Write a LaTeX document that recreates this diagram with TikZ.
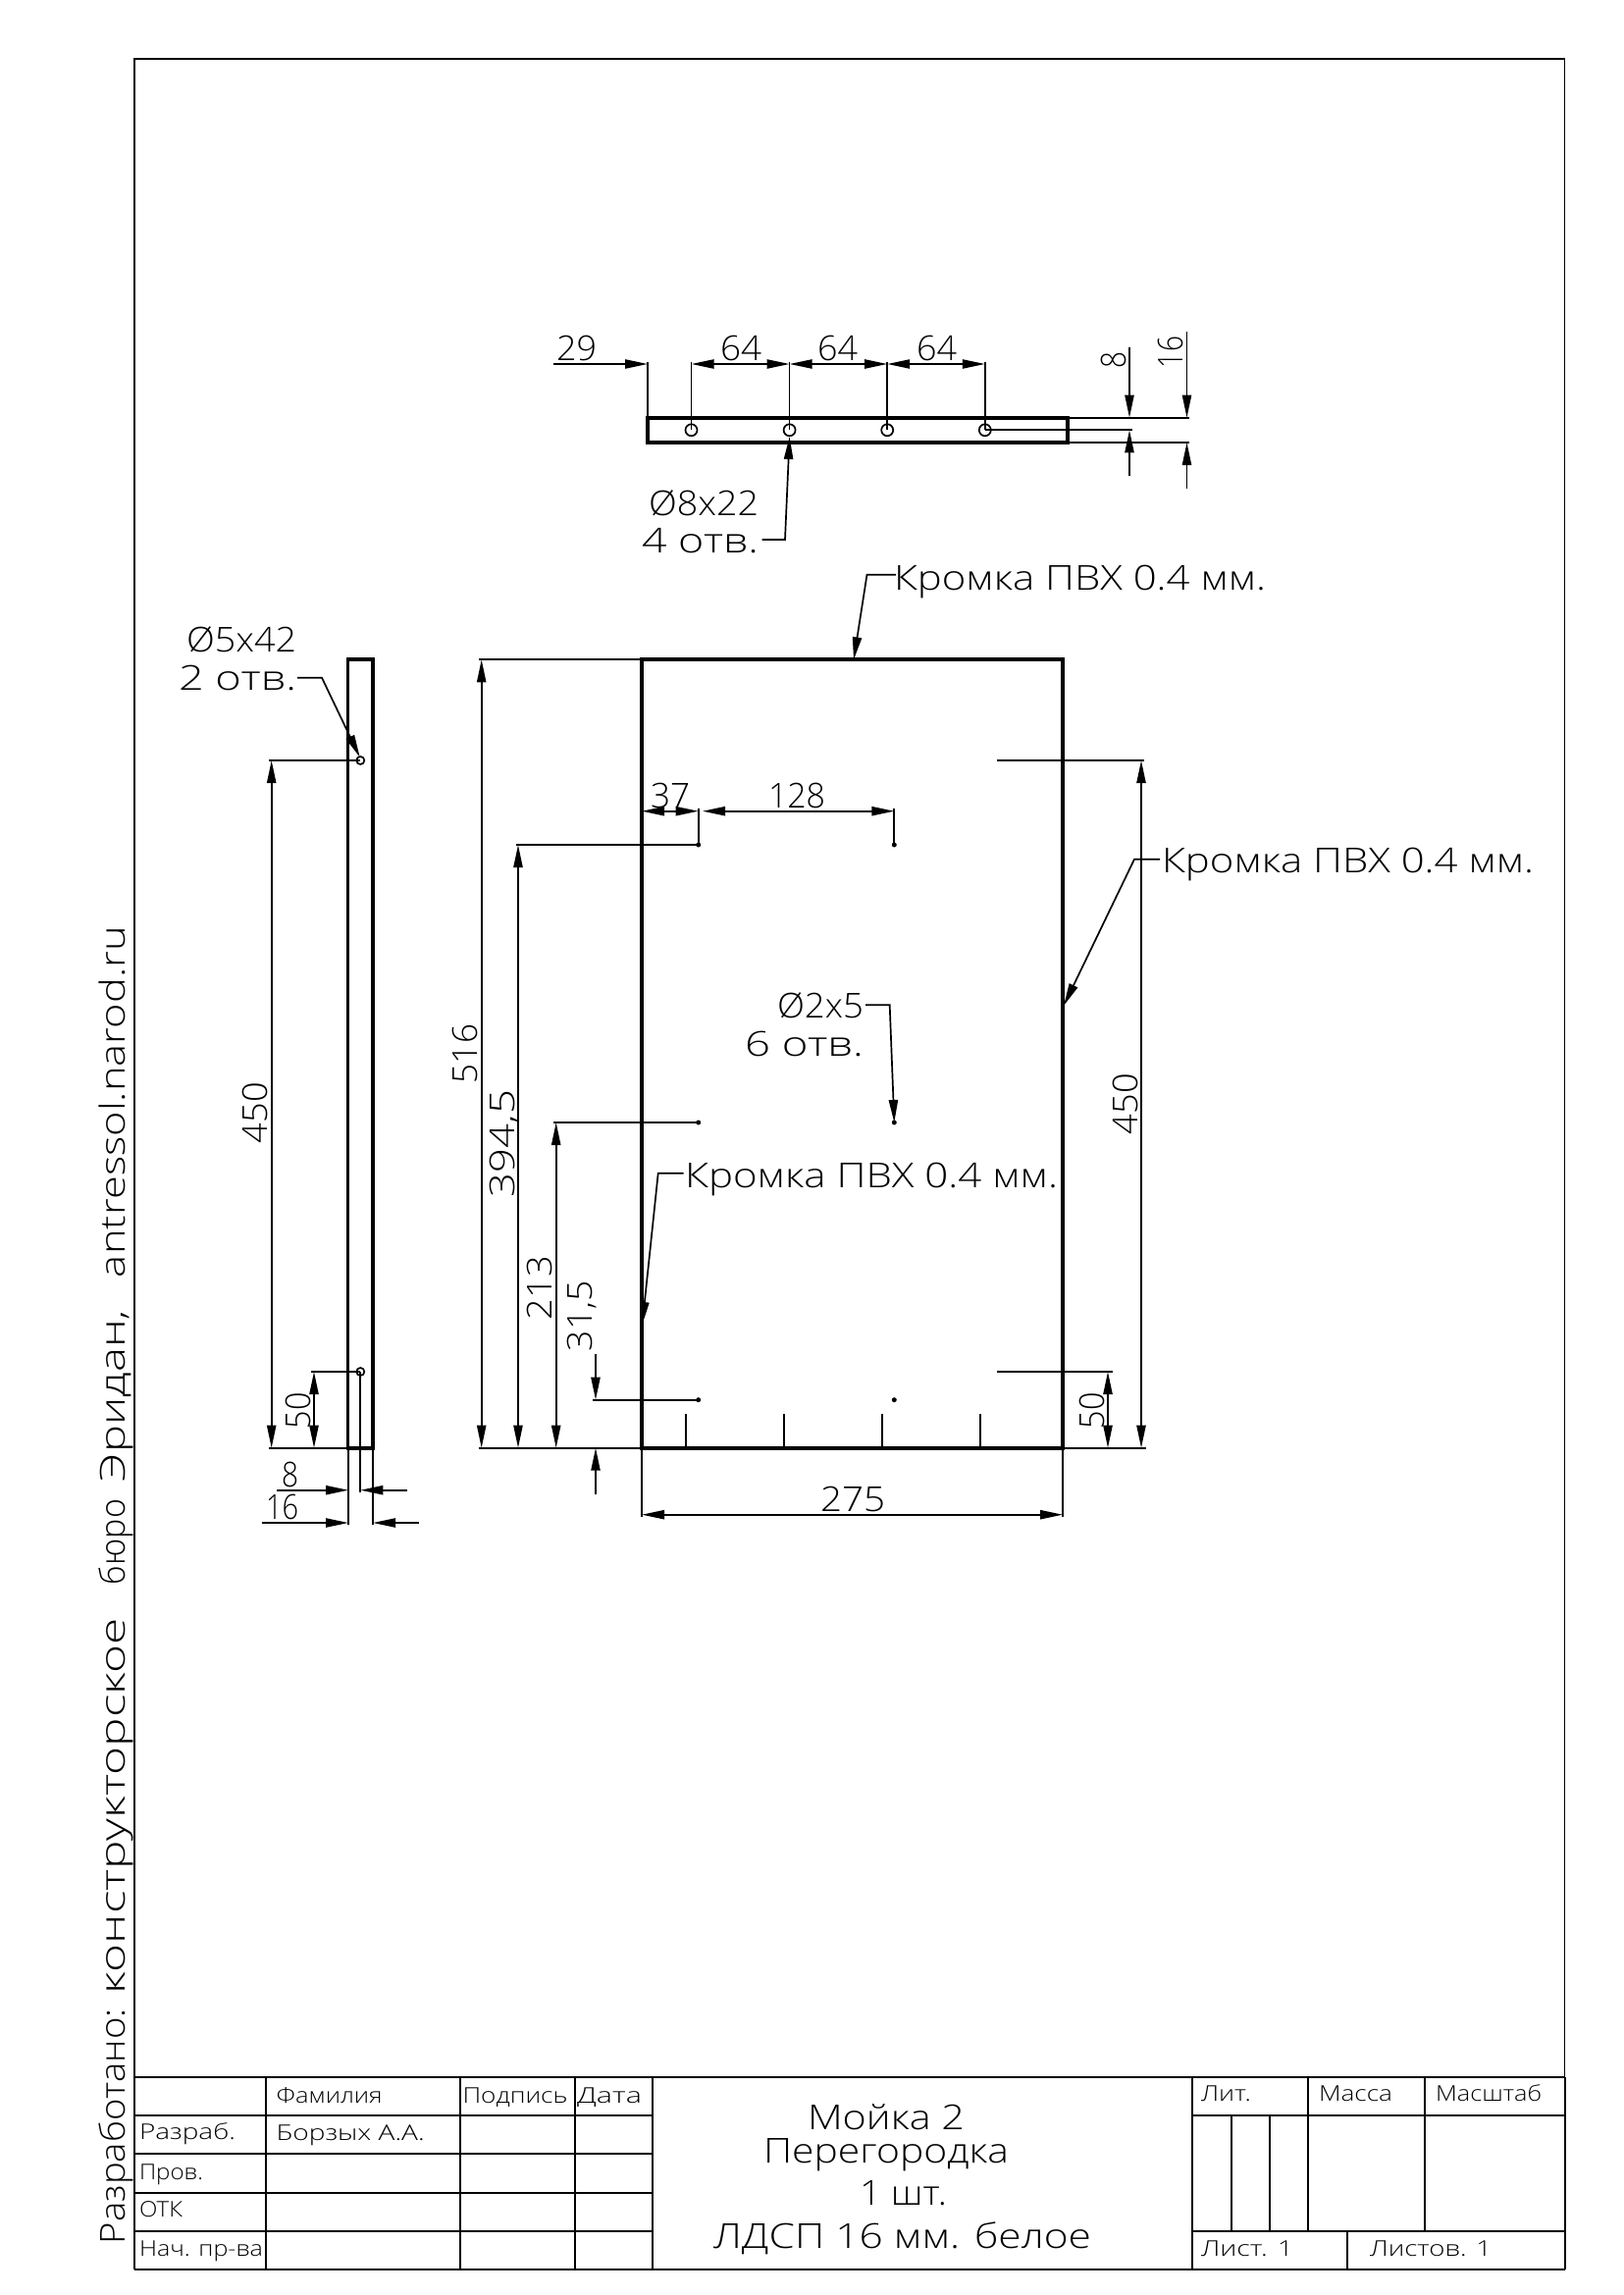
\documentclass[tikz,border=0pt]{standalone}
\usepackage{fontspec}
\usepackage{graphicx}
\usetikzlibrary{arrows.meta}
\setmainfont{Open Sans Light}
\newdimen\pxu \pxu=0.5pt
\newcommand\bigf{\fontsize{17.5}{20}\selectfont}
\newcommand\smlf{\fontsize{11}{13}\selectfont}
\newcommand\tb[5][]{\node[lbl,#1] at (#2,#3) {\resizebox{#4\pxu}{\height}{\bigf #5}};}
\newcommand\ts[5][]{\node[lbl,#1] at (#2,#3) {\resizebox{#4\pxu}{\height}{\smlf #5}};}
\tikzset{
  lbl/.style={anchor=base west,inner sep=0pt,outer sep=0pt},
  thin line/.style={line width=0.85pt,line cap=butt},
  thick line/.style={line width=1.9pt,line join=miter},
  frameline/.style={line width=0.7pt},
  tbl/.style={line width=1pt},
  >={Triangle[length=11.5pt,width=4.6pt]}
}
\begin{document}
\begin{tikzpicture}[x=0.5pt,y=-0.5pt]
\useasboundingbox (0,0) rectangle (1654,2339);
\fill[white] (0,0) rectangle (1654,2339);
% frame
\draw[frameline] (137,60) rectangle (1594.5,2312.7);
% title block
\begin{scope}[tbl]
\draw (137,2117) -- (1595,2117);
\draw (137,2312.7) -- (1595,2312.7);
\draw (137,2117) -- (137,2312.7);
\draw (1595,2117) -- (1595,2312.7);
\foreach \yy in {2155.7,2194.7,2235,2274} \draw (137,\yy) -- (665.3,\yy);
\foreach \xx in {271.3,468.5,586,665.3,1215} \draw (\xx,2117) -- (\xx,2312.7);
\draw (1215,2155.7) -- (1595,2155.7);
\draw (1215,2274) -- (1595,2274);
\foreach \xx in {1254.7,1294} \draw (\xx,2155.7) -- (\xx,2274);
\foreach \xx in {1333,1452} \draw (\xx,2117) -- (\xx,2274);
\draw (1372.7,2274) -- (1372.7,2312.7);
\end{scope}
\ts{281.7}{2143}{108}{Фамилия}
\ts{471.5}{2143}{107}{Подпись}
\ts{588}{2143}{66}{Дата}
\ts{142}{2180}{98}{Разраб.}
\ts{281.7}{2181}{151}{Борзых А.А.}
\ts{142}{2221.7}{65}{Пров.}
\ts{142}{2259}{44}{ОТК}
\ts{142}{2299}{126}{Нач. пр-ва}
\ts{1224}{2141.7}{51}{Лит.}
\ts{1344}{2141}{75}{Масса}
\ts{1463}{2141}{108}{Масштаб}
\ts{1224}{2299}{94}{Лист. 1}
\ts{1396}{2299}{124}{Листов. 1}
\tb{823}{2170}{160}{Мойка 2}
\tb{778}{2204}{250}{Перегородка}
\tb{876}{2247.7}{89}{1 шт.}
\tb{727}{2291.7}{385}{ЛДСП 16 мм. белое}
\tb[rotate=90]{127}{2287}{240}{Разработано:}
\tb[rotate=90]{127}{2032}{383}{конструкторское}
\tb[rotate=90]{127}{1615}{87}{бюро}
\tb[rotate=90]{127}{1510}{175}{Эридан,}
\tb[rotate=90]{127}{1302}{358}{antressol.narod.ru}
% top view
\draw[thick line] (660,425.7) rectangle (1088,451);
\begin{scope}[thin line]
\foreach \xx in {704.5,804.6,904.2,1003.8} {
  \draw (\xx,438.3) circle (6);
  \draw (\xx,369) -- (\xx,438.3);
}
\draw (660,369) -- (660,425.7);
\draw[->] (564.4,371) -- (660,371);
\draw[<->] (704.5,371) -- (804.6,371);
\draw[<->] (804.6,371) -- (904.2,371);
\draw[<->] (904.2,371) -- (1003.8,371);
\draw (1088,425.7) -- (1212,425.7);
\draw (1003.8,438.3) -- (1154,438.3);
\draw (1088,451) -- (1212,451);
\draw[->] (1151,354) -- (1151,425.7);
\draw[->] (1151,485) -- (1151,438.3);
\draw[->] (1209.5,338) -- (1209.5,425.7);
\draw[->] (1209.5,498) -- (1209.5,451);
\draw[->] (776.6,550) -- (800,550) -- (804.6,445);
\end{scope}
\tb{567}{367}{41}{29}
\tb{734}{367.5}{42}{64}
\tb{833}{367.5}{41}{64}
\tb{934}{367.5}{41}{64}
\tb[rotate=90]{1147}{375}{17}{8}
\tb[rotate=90]{1205}{375}{32}{16}
\tb{661}{525}{112}{Ø8x22}
\tb{654}{563}{119}{4 отв.}
% side view
\draw[thick line] (354.5,672.3) rectangle (380.3,1475.7);
\begin{scope}[thin line]
\draw (367.3,775) circle (4);
\draw (367.3,1398) circle (4);
\draw (274.3,775) -- (367.3,775);
\draw (274,1475.7) -- (355,1475.7);
\draw (317,1398) -- (367.3,1398);
\draw[<->] (276.7,775) -- (276.7,1475.7);
\draw[<->] (320,1398) -- (320,1475.7);
\draw (355,1475.7) -- (355,1554);
\draw (380,1475.7) -- (380,1554);
\draw (367.3,1398) -- (367.3,1520.7);
\draw[->] (282,1518.7) -- (355,1518.7);
\draw[->] (415,1518.7) -- (367.3,1518.7);
\draw[->] (266.7,1552) -- (355,1552);
\draw[->] (426.7,1552) -- (380,1552);
\draw[->] (303,690.7) -- (328,690.7) -- (366.7,771.7);
\end{scope}
\tb{190}{664}{112}{Ø5x42}
\tb{182}{703}{120}{2 отв.}
\tb[rotate=90]{272.7}{1165}{62}{450}
\tb[rotate=90]{316}{1456}{37}{50}
\tb{287}{1515}{17}{8}
\tb{271}{1548}{33}{16}
% plate
\draw[thick line] (654,672.3) rectangle (1083,1475.7);
\foreach \xx/\yy in {711.7/861,911.3/861,711.7/1144,911.3/1144,711.7/1426.7,911.3/1426.7}
  \fill (\xx,\yy) circle (2.5);
\begin{scope}[thin line]
\foreach \xx in {699,799,899,999} \draw (\xx,1441) -- (\xx,1475.7);
% left dimensions
\draw (488,672.3) -- (654,672.3);
\draw (488,1475.7) -- (654,1475.7);
\draw (525.5,861) -- (711.7,861);
\draw (564,1144) -- (711.7,1144);
\draw (604,1426.7) -- (711.7,1426.7);
\draw[<->] (490.7,672.3) -- (490.7,1475.7);
\draw[<->] (528,861) -- (528,1475.7);
\draw[<->] (566.7,1144) -- (566.7,1475.7);
\draw[->] (607,1380) -- (607,1426.7);
\draw[->] (607,1523) -- (607,1475.7);
% 37 / 128
\draw (711.7,824) -- (711.7,861);
\draw (911.3,824) -- (911.3,861);
\draw[<->] (654,826.7) -- (711.7,826.7);
\draw[<->] (716,826.7) -- (911.3,826.7);
% 275
\draw (654,1475.7) -- (654,1546);
\draw (1083,1475.7) -- (1083,1546);
\draw[<->] (654,1543.7) -- (1083,1543.7);
% right dimensions
\draw (1016,775) -- (1166,775);
\draw (1016,1398) -- (1134,1398);
\draw (1083,1475.7) -- (1168,1475.7);
\draw[<->] (1163,775) -- (1163,1475.7);
\draw[<->] (1129,1398) -- (1129,1475.7);
% leaders
\draw[->] (913,585.7) -- (883.5,585.7) -- (870,672.3);
\draw[->] (1182,875.7) -- (1156,875.7) -- (1084,1025);
\draw[->] (696.7,1195.7) -- (670.7,1195.7) -- (654.5,1350);
\draw[->] (882,1024.3) -- (906.7,1024.3) -- (911.3,1144);
\end{scope}
\tb{911}{601}{379}{Кромка ПВХ 0.4 мм.}
\tb{1184}{889}{379}{Кромка ПВХ 0.4 мм.}
\tb{698}{1210}{380}{Кромка ПВХ 0.4 мм.}
\tb{663}{823}{40}{37}
\tb{783}{823}{58}{128}
\tb{792}{1037}{88}{Ø2x5}
\tb{759}{1076}{121}{6 отв.}
\tb{836}{1540}{66}{275}
\tb[rotate=90]{486.7}{1104}{60}{516}
\tb[rotate=90]{524}{1220}{109}{394,5}
\tb[rotate=90]{562.7}{1345}{65}{213}
\tb[rotate=90]{603}{1377}{72}{31,5}
\tb[rotate=90]{1159}{1156}{62}{450}
\tb[rotate=90]{1125}{1456}{37}{50}
\end{tikzpicture}
\end{document}
